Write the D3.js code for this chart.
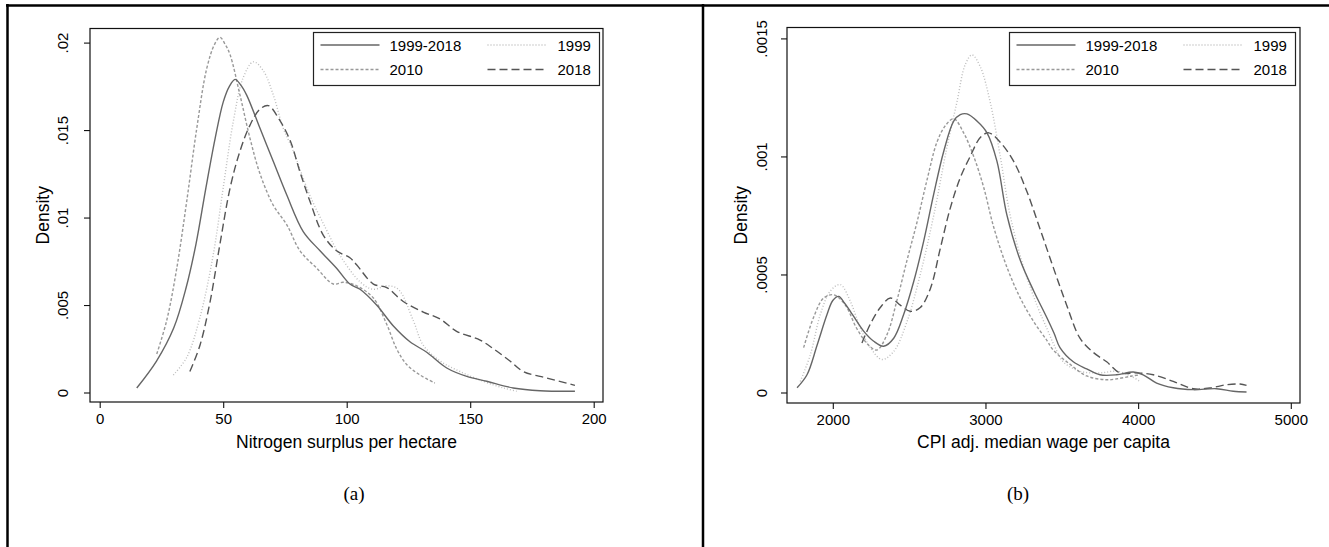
<!DOCTYPE html>
<html>
<head>
<meta charset="utf-8">
<script src="https://cdn.jsdelivr.net/npm/d3@7"></script>
<style>
  html, body { margin: 0; padding: 0; background: #fff; }
  svg { display: block; }
  text { font-family: "Liberation Sans", Arial, sans-serif; fill: #000; }
</style>
</head>
<body>
<svg id="chart" width="1329" height="547"></svg>
<script>
// ---------------- DATA ----------------
const seriesNames = ["1999-2018", "1999", "2010", "2018"];

// Panel (a): Nitrogen surplus per hectare — [x, density]
const nitroAll = [[15,0.00026],[23,0.0018],[30,0.0037],[35,0.006],[39,0.0085],[43,0.0117],[46.7,0.0145],[50,0.0166],[52.5,0.0175],[54.8,0.0179],[57,0.0176],[59.5,0.017],[64.9,0.0151],[70.3,0.0132],[75.7,0.0113],[82.4,0.0092],[89.2,0.0081],[95.9,0.0071],[101.3,0.0062],[105.4,0.0059],[112.1,0.005],[118.9,0.0038],[125.6,0.0029],[132.4,0.0023],[140.5,0.0014],[148.6,0.00092],[156.7,0.00064],[167.4,0.00026],[178.3,0.0001],[192.4,0.00007]];
const nitro1999 = [[29.8,0.001],[35.2,0.002],[40.6,0.0043],[46,0.0079],[50,0.0117],[54.1,0.0155],[58.1,0.018],[62.2,0.0189],[66.2,0.0184],[70.3,0.017],[74.3,0.0151],[78.1,0.0139],[85,0.0113],[91.8,0.0093],[97,0.0079],[105.6,0.0063],[110.7,0.0059],[116.2,0.0061],[120.9,0.0059],[127,0.0041],[131,0.0027],[137.8,0.0018],[145.9,0.0012],[155.3,0.00064],[163.4,0.00026],[168.8,0.00007]];
const nitro2010 = [[23.1,0.0022],[27.1,0.0041],[31.2,0.0071],[35.2,0.0109],[39.3,0.0151],[43.3,0.0185],[46.5,0.0199],[48.7,0.0203],[50.8,0.0199],[52.8,0.0193],[56.8,0.017],[60.9,0.0145],[64.9,0.0125],[70.3,0.0107],[75.7,0.0096],[81.1,0.0081],[87.9,0.0071],[94.6,0.0062],[98.6,0.0063],[104,0.0061],[110.8,0.0054],[116.2,0.0039],[120.2,0.0025],[124.3,0.0016],[129.7,0.001],[135.7,0.00054]];
const nitro2018 = [[36.5,0.0012],[40.6,0.0027],[44.7,0.0052],[48.7,0.0085],[52.8,0.0117],[56.8,0.0138],[60.9,0.0153],[64.9,0.0162],[68.3,0.0164],[72.3,0.0157],[77.1,0.0144],[81.1,0.0126],[85.2,0.0109],[90.5,0.009],[95.9,0.0081],[101.3,0.0077],[104,0.0073],[110.8,0.0062],[116.2,0.006],[122.9,0.0052],[131,0.0046],[137.8,0.0042],[144.5,0.0035],[154,0.003],[159.4,0.0025],[166.1,0.0018],[171.5,0.0012],[181,0.00083],[192.4,0.00041]];

// Panel (b): CPI adj. median wage per capita — [x, density]
const wageAll = [[1766,0.00002],[1831,0.000075],[1897,0.0002],[1962,0.00033],[2000,0.00039],[2039,0.000407],[2075,0.00038],[2115,0.000344],[2202,0.00026],[2268,0.000217],[2333,0.000196],[2399,0.00023],[2464,0.00033],[2530,0.00047],[2595,0.00064],[2661,0.00084],[2726,0.00102],[2792,0.00115],[2835,0.001177],[2879,0.00118],[2944,0.00115],[3010,0.0011],[3075,0.00098],[3141,0.00075],[3228,0.00056],[3316,0.00043],[3400,0.00032],[3450,0.00025],[3488,0.00019],[3575,0.00013],[3663,0.0001],[3750,0.000075],[3859,0.000075],[3968,0.000087],[4033,0.000075],[4121,0.00004],[4230,0.00002],[4361,0.000012],[4514,0.000016],[4623,0.000005],[4710,0.000002]];
const wage1999 = [[1787,0.000047],[1853,0.00016],[1918,0.00033],[1984,0.00043],[2049,0.000457],[2115,0.000386],[2180,0.000273],[2246,0.00019],[2322,0.00014],[2399,0.000174],[2486,0.0003],[2573,0.0005],[2661,0.00075],[2748,0.00104],[2813,0.00123],[2868,0.00139],[2912,0.00143],[2966,0.00138],[3031,0.00123],[3097,0.001],[3162,0.00075],[3250,0.00053],[3337,0.00037],[3403,0.00027],[3450,0.0002],[3510,0.00013],[3619,0.00009],[3750,0.000083],[3859,0.00009],[3950,0.00007],[4012,0.000047]];
const wage2010 = [[1809,0.00019],[1875,0.00032],[1940,0.0004],[2006,0.000414],[2082,0.00037],[2158,0.00027],[2235,0.0002],[2289,0.00018],[2355,0.000245],[2420,0.00039],[2486,0.00056],[2551,0.00072],[2617,0.0009],[2682,0.00106],[2737,0.00113],[2792,0.00116],[2857,0.0011],[2923,0.001],[2988,0.00087],[3054,0.0007],[3141,0.00053],[3228,0.0004],[3316,0.0003],[3403,0.00022],[3444,0.00018],[3553,0.00012],[3663,0.00007],[3794,0.000054],[3881,0.00006],[3960,0.00007],[4012,0.000075]];
const wage2018 = [[2191,0.00021],[2246,0.00029],[2311,0.00036],[2377,0.0004],[2442,0.00037],[2508,0.000344],[2573,0.00036],[2639,0.00044],[2704,0.00061],[2769,0.00078],[2835,0.00091],[2900,0.001],[2966,0.00108],[3021,0.0011],[3097,0.00106],[3184,0.00098],[3272,0.00085],[3359,0.00069],[3444,0.00053],[3532,0.00037],[3619,0.00023],[3706,0.00017],[3794,0.00013],[3881,0.000083],[3990,0.000083],[4099,0.000075],[4230,0.000047],[4361,0.000016],[4470,0.000019],[4579,0.000033],[4667,0.000036],[4710,0.00003]];

// Tick values and labels
const nitroXTicks = [0, 50, 100, 150, 200];
const nitroYTicks = [0, 0.005, 0.01, 0.015, 0.02];
const nitroYLabels = ["0", ".005", ".01", ".015", ".02"];
const wageXTicks = [2000, 3000, 4000, 5000];
const wageYTicks = [0, 0.0005, 0.001, 0.0015];
const wageYLabels = ["0", ".0005", ".001", ".0015"];

// ---------------- STYLES ----------------
const styles = {
  "1999-2018": { stroke: "#666", dash: null, width: 1.4 },
  "1999":      { stroke: "#bdbdbd", dash: "1,2", width: 1.4 },
  "2010":      { stroke: "#999", dash: "3,2", width: 1.4 },
  "2018":      { stroke: "#555", dash: "8,4", width: 1.4 }
};
const tickFont = "15px", titleFont = "17.5px", legendFont = "15px";

const svg = d3.select("#chart");

// outer frame (table cell borders)
svg.append("line").attr("x1", 6).attr("x2", 1329).attr("y1", 5.5).attr("y2", 5.5)
  .attr("stroke", "#000").attr("stroke-width", 2.5);
svg.append("line").attr("x1", 7.5).attr("x2", 7.5).attr("y1", 4).attr("y2", 547)
  .attr("stroke", "#000").attr("stroke-width", 2.5);
svg.append("line").attr("x1", 703).attr("x2", 703).attr("y1", 4).attr("y2", 547)
  .attr("stroke", "#000").attr("stroke-width", 2.5);

function panel(cfg) {
  const g = svg.append("g");
  const x = d3.scaleLinear().domain(cfg.xDomain).range(cfg.xRange);
  const y = d3.scaleLinear().domain(cfg.yDomain).range(cfg.yRange);
  const b = cfg.box;

  // plot region box
  g.append("rect").attr("x", b.x0).attr("y", b.y0)
    .attr("width", b.x1 - b.x0).attr("height", b.y1 - b.y0)
    .attr("fill", "none").attr("stroke", "#111").attr("stroke-width", 1.2);

  // y axis
  const ya = g.append("g").attr("transform", `translate(${b.x0},0)`)
    .call(d3.axisLeft(y).tickValues(cfg.yTicks)
      .tickFormat((d, i) => cfg.yLabels[i]).tickSize(6).tickSizeOuter(0));
  ya.select(".domain").remove();
  ya.selectAll(".tick line").attr("stroke", "#111").attr("stroke-width", 1.1);
  ya.selectAll(".tick text")
    .attr("x", null).attr("dy", null)
    .attr("text-anchor", "middle")
    .attr("transform", `translate(${cfg.yLabelOffset},0) rotate(-90)`)
    .style("font-size", tickFont).style("font-family", '"Liberation Sans", Arial, sans-serif');

  // x axis
  const xa = g.append("g").attr("transform", `translate(0,${b.y1})`)
    .call(d3.axisBottom(x).tickValues(cfg.xTicks).tickFormat(d3.format("d"))
      .tickSize(6).tickSizeOuter(0));
  xa.select(".domain").remove();
  xa.selectAll(".tick line").attr("stroke", "#111").attr("stroke-width", 1.1);
  xa.selectAll(".tick text").attr("y", 21.5).attr("dy", null)
    .style("font-size", tickFont).style("font-family", '"Liberation Sans", Arial, sans-serif');

  // axis titles
  g.append("text").attr("transform", `translate(${b.x0 + cfg.yTitleOffset},${(b.y0 + b.y1) / 2}) rotate(-90)`)
    .attr("text-anchor", "middle").style("font-size", titleFont).text("Density");
  g.append("text").attr("x", (b.x0 + b.x1) / 2).attr("y", 448)
    .attr("text-anchor", "middle").style("font-size", titleFont).text(cfg.xTitle);

  // caption
  g.append("text").attr("x", cfg.captionX).attr("y", 500)
    .attr("text-anchor", "middle")
    .style("font-family", '"Liberation Serif", "Times New Roman", serif')
    .style("font-size", "19px").text(cfg.caption);

  // curves
  const line = d3.line().x(d => x(d[0])).y(d => y(d[1])).curve(d3.curveCatmullRom.alpha(0.5));
  const order = ["1999", "2010", "2018", "1999-2018"];
  order.forEach(name => {
    const s = styles[name];
    g.append("path").datum(cfg.series[name])
      .attr("d", line).attr("fill", "none")
      .attr("stroke", s.stroke).attr("stroke-width", s.width)
      .attr("stroke-dasharray", s.dash);
  });

  // legend
  const L = cfg.legend;
  const lg = g.append("g").attr("transform", `translate(${L.x},${L.y})`);
  lg.append("rect").attr("x", 0).attr("y", 0).attr("width", L.w).attr("height", L.h)
    .attr("fill", "#fff").attr("stroke", "#222").attr("stroke-width", 1.2);
  const slots = [
    { name: seriesNames[0], col: 0, row: 0 },
    { name: seriesNames[1], col: 1, row: 0 },
    { name: seriesNames[2], col: 0, row: 1 },
    { name: seriesNames[3], col: 1, row: 1 }
  ];
  const colKey = [7, 174], colText = [76, 244], rowY = [12.5, 37];
  slots.forEach(sl => {
    const s = styles[sl.name];
    lg.append("line")
      .attr("x1", colKey[sl.col]).attr("x2", colKey[sl.col] + 59)
      .attr("y1", rowY[sl.row]).attr("y2", rowY[sl.row])
      .attr("stroke", s.stroke).attr("stroke-width", s.width)
      .attr("stroke-dasharray", s.dash);
    lg.append("text").attr("x", colText[sl.col]).attr("y", rowY[sl.row] + 5.5)
      .style("font-size", legendFont).text(sl.name);
  });
}

panel({
  xDomain: [0, 200], xRange: [99.7, 593.7],
  yDomain: [0, 0.02], yRange: [392.5, 42.6],
  box: { x0: 90, x1: 603, y0: 28.5, y1: 402 },
  xTicks: nitroXTicks, yTicks: nitroYTicks, yLabels: nitroYLabels,
  yLabelOffset: -22, yTitleOffset: -41,
  xTitle: "Nitrogen surplus per hectare",
  caption: "(a)", captionX: 354,
  series: { "1999-2018": nitroAll, "1999": nitro1999, "2010": nitro2010, "2018": nitro2018 },
  legend: { x: 313.5, y: 32.5, w: 286, h: 53 }
});

panel({
  xDomain: [2000, 5000], xRange: [832.8, 1290.8],
  yDomain: [0, 0.0015], yRange: [392.5, 38.4],
  box: { x0: 787, x1: 1300, y0: 27.5, y1: 403 },
  xTicks: wageXTicks, yTicks: wageYTicks, yLabels: wageYLabels,
  yLabelOffset: -20, yTitleOffset: -40,
  xTitle: "CPI adj. median wage per capita",
  caption: "(b)", captionX: 1018,
  series: { "1999-2018": wageAll, "1999": wage1999, "2010": wage2010, "2018": wage2018 },
  legend: { x: 1009.5, y: 32.5, w: 286, h: 53 }
});
</script>
</body>
</html>
